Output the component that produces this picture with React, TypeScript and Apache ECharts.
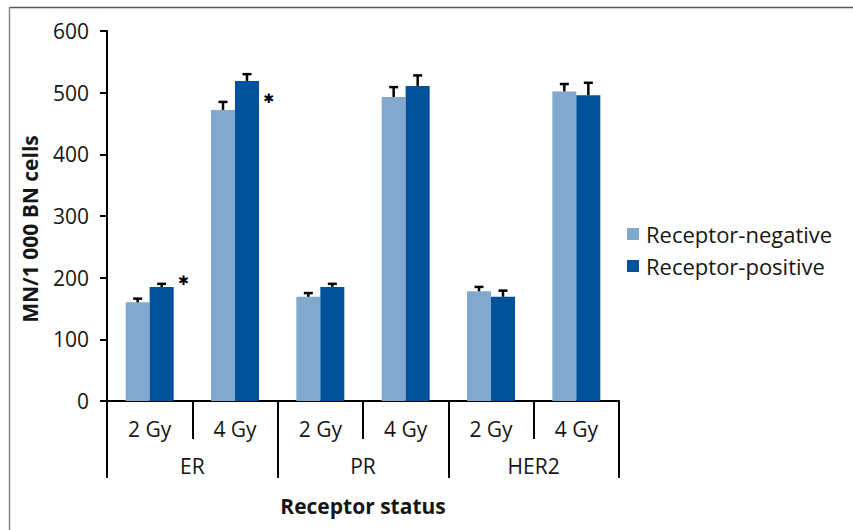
import React, { useEffect, useRef } from "react";
import * as echarts from "echarts";

const doseLabels = ["2 Gy", "4 Gy", "2 Gy", "4 Gy", "2 Gy", "4 Gy"];
const receptorLabels = ["ER", "PR", "HER2"];
const yTicks = [0, 100, 200, 300, 400, 500, 600];
const negValues = [160, 472, 169, 493, 178, 502];
const negErrors = [6, 13, 6, 16, 7, 12];
const posValues = [185, 519, 185, 511, 169, 496];
const posErrors = [5, 11, 5, 17, 10, 20];
const sigIndex = [0, 1];
const sigValues = [195, 490];
const seriesNames = ["Receptor-negative", "Receptor-positive"];
const colors = ["#82A8CD", "#00529B"];

const FONT = "Open Sans";
const TXT = "#161616";

function errSeries(vals: number[], errs: number[], offset: number) {
  return {
    type: "custom",
    xAxisIndex: 0,
    yAxisIndex: 0,
    silent: true,
    z: 10,
    data: vals.map((v, i) => [i, v, v + errs[i]]),
    encode: { x: 0, y: [1, 2] },
    renderItem: (_p: any, api: any) => {
      const idx = api.value(0);
      const x = api.coord([idx, 0])[0] + offset;
      const yTop = api.coord([idx, api.value(1)])[1];
      const yErr = api.coord([idx, api.value(2)])[1];
      return {
        type: "group",
        children: [
          { type: "line", shape: { x1: x, y1: yTop, x2: x, y2: yErr }, style: { stroke: "#000", lineWidth: 2.5 } },
          { type: "line", shape: { x1: x - 4.5, y1: yErr, x2: x + 4.5, y2: yErr }, style: { stroke: "#000", lineWidth: 2.5 } },
        ],
      };
    },
  };
}

export default function App() {
  const ref = useRef<HTMLDivElement>(null);
  useEffect(() => {
    if (!ref.current) return;
    const chart = echarts.init(ref.current, null, { renderer: "svg" });
    chart.setOption({
      animation: false,
      backgroundColor: "#fff",
      textStyle: { fontFamily: FONT },
      grid: { left: 107, right: 234, top: 31, bottom: 129, containLabel: false },
      legend: {
        orient: "vertical",
        left: 622,
        top: 218,
        itemWidth: 12,
        itemHeight: 12,
        itemGap: 10,
        icon: "rect",
        selectedMode: false,
        data: seriesNames,
        textStyle: { fontFamily: FONT, fontSize: 22, color: TXT, padding: [0, 0, 0, 2] },
      },
      xAxis: [
        {
          type: "category",
          data: doseLabels,
          position: "bottom",
          axisLine: { show: true, lineStyle: { color: "#000", width: 2 } },
          axisTick: { show: true, interval: 0, length: 38, lineStyle: { color: "#000", width: 2 } },
          axisLabel: { interval: 0, margin: 17, fontFamily: FONT, fontSize: 21, color: TXT },
        },
        {
          type: "category",
          data: receptorLabels,
          position: "bottom",
          axisLine: { show: false },
          axisTick: { show: true, interval: 0, length: 77, lineStyle: { color: "#000", width: 2 } },
          axisLabel: { interval: 0, margin: 54, fontFamily: FONT, fontSize: 21, color: TXT },
          name: "Receptor status",
          nameLocation: "middle",
          nameGap: 94,
          nameTextStyle: { fontFamily: FONT, fontSize: 21, fontWeight: "bold", color: TXT },
        },
      ],
      yAxis: {
        type: "value",
        min: 0,
        max: 600,
        interval: 100,
        splitLine: { show: false },
        axisLine: { show: true, lineStyle: { color: "#000", width: 2 } },
        axisTick: { show: true, length: 7, lineStyle: { color: "#000", width: 2 } },
        axisLabel: {
          margin: 18,
          fontFamily: FONT,
          fontSize: 21,
          color: TXT,
          formatter: (v: number) => (yTicks.includes(v) ? String(v) : ""),
        },
      },
      graphic: [
        { type: "line", shape: { x1: 9, y1: 7.5, x2: 853, y2: 7.5 }, style: { stroke: "#555", lineWidth: 1.5 } },
        { type: "line", shape: { x1: 9.5, y1: 7, x2: 9.5, y2: 530 }, style: { stroke: "#888", lineWidth: 1.5 } },
        {
          type: "text",
          x: 30,
          y: 229,
          rotation: Math.PI / 2,
          style: {
            text: "MN/1 000 BN cells",
            fontFamily: FONT,
            fontSize: 21,
            fontWeight: "bold",
            fill: TXT,
            align: "center",
            verticalAlign: "middle",
          },
        },
      ],
      series: [
        {
          name: seriesNames[0],
          type: "bar",
          data: negValues,
          barWidth: 24,
          barGap: "0%",
          itemStyle: { color: colors[0] },
        },
        {
          name: seriesNames[1],
          type: "bar",
          data: posValues,
          barWidth: 24,
          barGap: "0%",
          itemStyle: { color: colors[1] },
        },
        errSeries(negValues, negErrors, -12),
        errSeries(posValues, posErrors, 12),
        {
          type: "custom",
          xAxisIndex: 0,
          yAxisIndex: 0,
          silent: true,
          z: 10,
          data: sigIndex.map((c, i) => [c, sigValues[i]]),
          encode: { x: 0, y: 1 },
          renderItem: (_p: any, api: any) => {
            const pt = api.coord([api.value(0), api.value(1)]);
            return {
              type: "text",
              x: pt[0] + 34,
              y: pt[1],
              style: {
                text: "✱",
                fontFamily: "DejaVu Sans",
                fontSize: 13,
                fontWeight: "bold",
                fill: "#000",
                align: "center",
                verticalAlign: "middle",
              },
            };
          },
        },
      ],
    });
    return () => chart.dispose();
  }, []);
  return <div ref={ref} style={{ width: 853, height: 530, position: "absolute", left: 0, top: 0 }} />;
}
